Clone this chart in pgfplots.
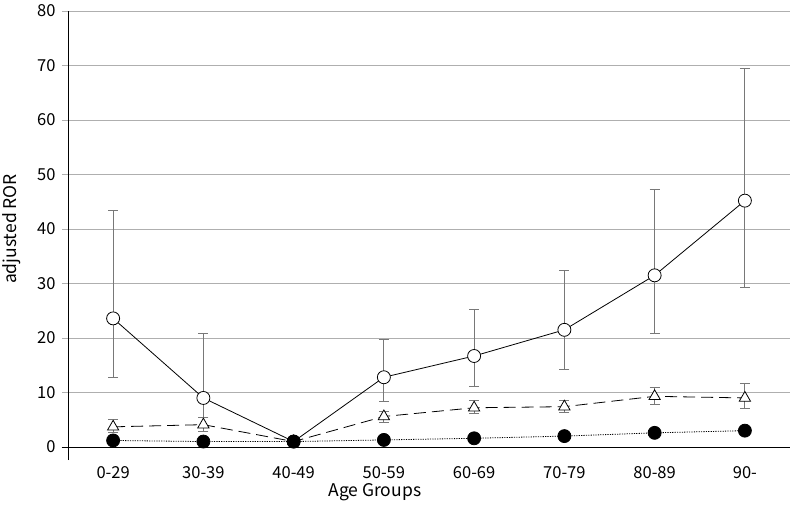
\documentclass[border=0pt]{standalone}
\usepackage{pgfplots}
\pgfplotsset{compat=1.18}
\usepackage{fontspec}
\setmainfont{Noto Sans CJK JP}
\definecolor{gridc}{RGB}{175,175,175}
\definecolor{errc}{RGB}{120,120,120}
\begin{document}
\fontsize{16}{19}\selectfont
\begin{tikzpicture}
\begin{axis}[
  scale only axis,
  width=722pt, height=436pt,
  xmin=-0.5, xmax=7.5, ymin=0, ymax=80,
  xtick={0,...,7},
  xticklabels={0-29,30-39,40-49,50-59,60-69,70-79,80-89,90-},
  ytick={0,10,...,80},
  ymajorgrids,
  grid style={gridc, line width=0.9pt},
  axis x line*=bottom, axis y line*=left,
  axis line style={-, black, line width=0.8pt},
  x axis line style={draw=none},
  y axis line style={draw=none},
  tick align=outside,
  major tick length=6pt,
  xtick style={draw=none},
  ytick style={gridc, line width=0.9pt},
  tick label style={font=\fontsize{16.5}{19}\selectfont},
  /pgf/number format/assume math mode=true,
  xticklabel style={yshift=-8pt},
  yticklabel style={xshift=-1pt},
  xlabel={Age Groups},
  ylabel={adjusted ROR},
  xlabel style={at={(axis description cs:0.425,-0.103)}, anchor=center, font=\fontsize{17.5}{20}\selectfont},
  ylabel style={at={(axis description cs:-0.0776,0.5)}, anchor=center, rotate=0, font=\fontsize{17.5}{20}\selectfont},
  clip=false,
]
\draw[black, line width=0.8pt] (axis cs:-0.5,-2.4) -- (axis cs:-0.5,80);
\draw[black, line width=1pt] (axis cs:-0.57,0) -- (axis cs:7.5,0);
% open circles
\addplot[black, line width=0.8pt, mark=*, mark size=6.5pt,
  mark options={fill=white, draw=black, line width=0.8pt, solid},
  error bars/.cd, y dir=both, y explicit,
  error bar style={errc, line width=0.8pt},
  error mark options={rotate=90, mark size=5pt, errc, line width=0.8pt}]
coordinates {
(0,23.6) += (0,19.8) -= (0,10.8)
(1,9.0) += (0,11.9) -= (0,3.5)
(2,1.0) += (0,0) -= (0,0)
(3,12.8) += (0,6.9) -= (0,4.5)
(4,16.7) += (0,8.6) -= (0,5.6)
(5,21.5) += (0,10.9) -= (0,7.2)
(6,31.5) += (0,15.8) -= (0,10.6)
(7,45.2) += (0,24.3) -= (0,15.9)
};
% triangles
\addplot[black, line width=0.8pt, dash pattern=on 12pt off 6pt, mark=triangle*, mark size=6.5pt,
  mark options={fill=white, draw=black, line width=0.8pt, solid},
  error bars/.cd, y dir=both, y explicit,
  error bar style={errc, line width=0.8pt, solid},
  error mark options={rotate=90, mark size=5pt, errc, line width=0.8pt, solid}]
coordinates {
(0,3.7) += (0,1.4) -= (0,1.0)
(1,4.1) += (0,1.4) -= (0,1.3)
(2,1.0) += (0,0) -= (0,0)
(3,5.6) += (0,0.9) -= (0,1.1)
(4,7.2) += (0,1.4) -= (0,1.0)
(5,7.4) += (0,1.2) -= (0,1.1)
(6,9.3) += (0,1.6) -= (0,1.4)
(7,9.0) += (0,2.7) -= (0,2.0)
};
% filled circles
\addplot[black, line width=0.8pt, dash pattern=on 1.2pt off 1.2pt, mark=*, mark size=6.5pt,
  mark options={fill=black, draw=black, solid}]
coordinates {
(0,1.2) (1,1.0) (2,1.0) (3,1.3) (4,1.6) (5,2.0) (6,2.6) (7,3.0)
};
\end{axis}
\pgfresetboundingbox
\path (current axis.south west) ++(-68pt,-59pt) coordinate (bbA);
\path (current axis.north east) ++(3pt,11pt) coordinate (bbB);
\path[use as bounding box] (bbA) rectangle (bbB);
\end{tikzpicture}
\end{document}
